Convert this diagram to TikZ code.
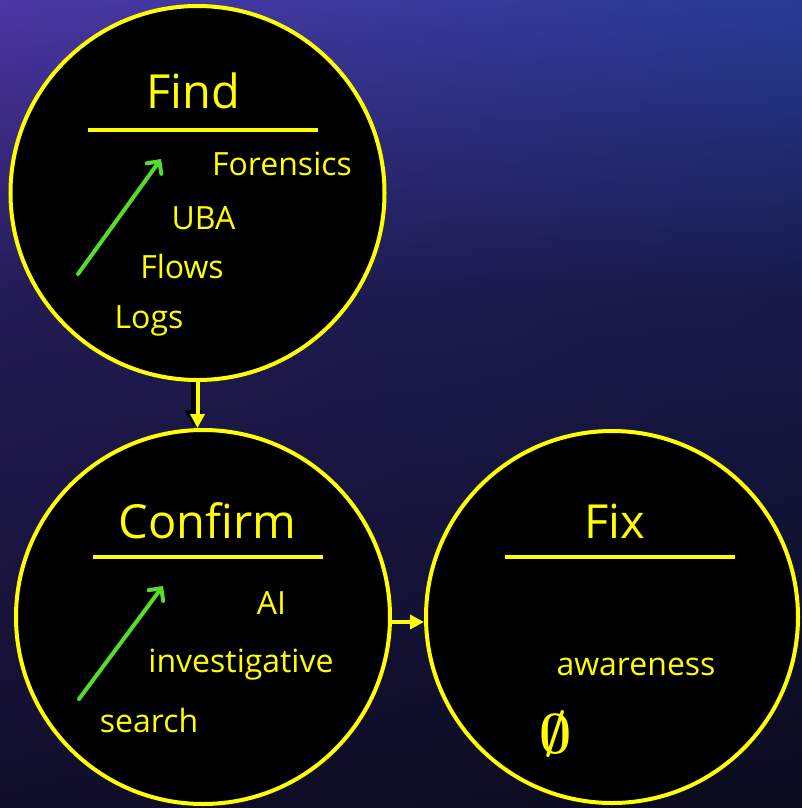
\documentclass[tikz,border=0pt]{standalone}
\usepackage{fontspec}
\setmainfont{Open Sans}
\usetikzlibrary{arrows.meta,shadings}
\definecolor{ylw}{HTML}{FFFF00}
\definecolor{grn}{HTML}{55DD2E}
\definecolor{bgA}{HTML}{4B36A3}
\definecolor{bgB}{HTML}{283C96}
\definecolor{bgC}{HTML}{231B54}
\definecolor{bgD}{HTML}{161947}
\definecolor{bgE}{HTML}{110E2A}
\definecolor{bgF}{HTML}{0A0B1C}
\begin{document}
\begin{tikzpicture}[x=1pt,y=-1pt,
  stagebox/.style={circle,draw=ylw,line width=4pt,fill=black,minimum size=#1,inner sep=0pt},
  titletext/.style={text=ylw,font=\fontsize{47}{47}\selectfont,anchor=base,inner sep=0pt},
  itemtext/.style={text=ylw,font=\fontsize{32}{32}\selectfont,anchor=base,inner sep=0pt},
  ulrule/.style={draw=ylw,line width=4pt},
  greenarrow/.style={draw=grn,line width=4pt,line cap=round,-{Straight Barb[length=9pt,width=18pt,line cap=round]}},
  flowarrow/.style={draw=ylw,line width=4pt,-{Triangle[length=14pt,width=14pt]}},
  shadowarrow/.style={draw=black,line width=6pt,-{Triangle[length=16pt,width=18pt]}}]
\useasboundingbox (0,0) rectangle (802,808);
% background
\shade[upper left=bgA,upper right=bgB,lower left=bgC,lower right=bgD] (0,0) rectangle (802,300);
\shade[upper left=bgC,upper right=bgD,lower left=bgE,lower right=bgF] (0,300) rectangle (802,808);
% stages
\node[stagebox=374pt] (find) at (197.5,193) {};
\node[stagebox=374pt] (confirm) at (203,617) {};
\node[stagebox=372pt] (fix) at (612,617) {};
% connectors
\draw[shadowarrow] ([xshift=-4pt]find.south) -- ([xshift=-4pt,yshift=2pt]find.south |- confirm.north);
\draw[flowarrow] (find.south) -- (find.south |- confirm.north);
\draw[flowarrow] ([yshift=-5pt]confirm.east) -- ([yshift=-5pt]fix.west);
% Find
\node[titletext] (findt) at (193,108) {Find};
\draw[ulrule] (88,130) -- (318,130);
\node[itemtext] (forensics) at (282,175) {Forensics};
\node[itemtext] (uba) at (203.5,229) {UBA};
\node[itemtext] (flows) at (182,278) {Flows};
\node[itemtext] (logs) at (149,328) {Logs};
\draw[greenarrow] (78,274) -- (161,159);
% Confirm
\node[titletext] (confirmt) at (207.5,538) {Confirm};
\draw[ulrule] (93,557) -- (323,557);
\node[itemtext] (ai) at (271.5,614) {AI};
\node[itemtext] (invest) at (241,672) {investigative};
\node[itemtext] (search) at (149,732) {search};
\draw[greenarrow] (79,699) -- (163,586);
% Fix
\node[titletext] (fixt) at (614.5,538) {Fix};
\draw[ulrule] (505,557) -- (735,557);
\node[itemtext] (aware) at (636,675) {awareness};
\node[text=ylw,font=\fontsize{20}{20}\selectfont,inner sep=0pt] (empty) at (556,734) {\scalebox{2.7}{\boldmath$\emptyset$}};
\end{tikzpicture}
\end{document}
